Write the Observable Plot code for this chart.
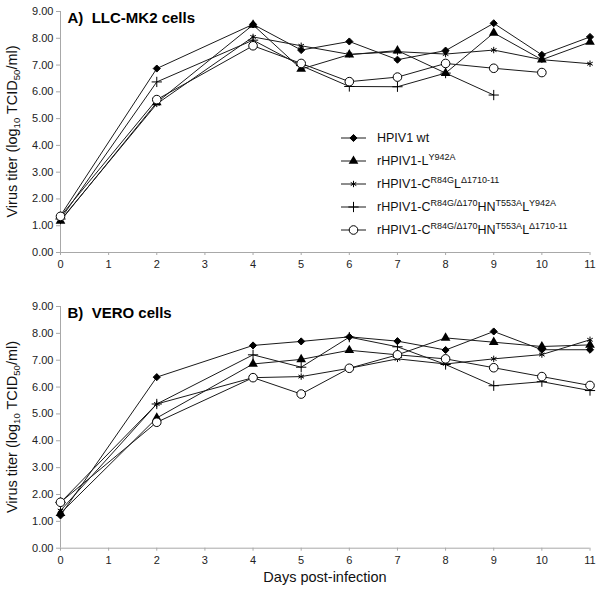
<!DOCTYPE html>
<html><head><meta charset="utf-8">
<script src="https://cdn.jsdelivr.net/npm/d3@7"></script>
<script src="https://cdn.jsdelivr.net/npm/@observablehq/plot@0.6"></script>
<style>
body{margin:0;background:#fff;font-family:"Liberation Sans",Arial,sans-serif;}
#wrap{position:relative;width:600px;height:592px;overflow:hidden;}
#wrap svg{display:block;}
#legend{position:absolute;left:340px;top:126px;font-size:12.5px;color:#111;}
#legend .row{display:flex;align-items:center;height:23.1px;white-space:nowrap;}
#legend .row svg{margin-right:10px;}
#legend sup{font-size:9px;vertical-align:5px;line-height:0;}
</style></head><body><div id="wrap"></div>
<script>
// ---- data ----
const days = [0, 2, 4, 5, 6, 7, 8, 9, 10, 11];
const seriesKeys = ["wt", "L", "CL", "CHNL_Y", "CHNL_D"];
const seriesSymbols = ["diamond2", "triangle", "asterisk", "plus", "circle"];
const legendLabels = [
  "HPIV1 wt",
  "rHPIV1-L<sup>Y942A</sup>",
  "rHPIV1-C<sup>R84G</sup>L<sup>Δ1710-11</sup>",
  "rHPIV1-C<sup>R84G/Δ170</sup>HN<sup>T553A</sup>L<sup>Y942A</sup>",
  "rHPIV1-C<sup>R84G/Δ170</sup>HN<sup>T553A</sup>L<sup>Δ1710-11</sup>"
];
const xTicks = [0, 1, 2, 3, 4, 5, 6, 7, 8, 9, 10, 11];
const yTicks = [0, 1, 2, 3, 4, 5, 6, 7, 8, 9];

// Panel A: LLC-MK2 cells
const aWt     = [1.38, 6.87, 8.52, 7.56, 7.88, 7.20, 7.54, 8.56, 7.38, 8.05];
const aL      = [1.18, 5.60, 8.50, 6.85, 7.39, 7.54, 6.70, 8.20, 7.20, 7.86];
const aCL     = [1.20, 5.55, 8.05, 7.72, 7.40, 7.50, 7.41, 7.56, 7.20, 7.05];
const aCHNL_Y = [1.25, 6.37, 7.93, 6.98, 6.20, 6.19, 6.70, 5.88, null, null];
const aCHNL_D = [1.35, 5.71, 7.72, 7.06, 6.38, 6.55, 7.06, 6.88, 6.72, null];

// Panel B: VERO cells
const bWt     = [1.22, 6.37, 7.55, 7.70, 7.87, 7.71, 7.38, 8.07, 7.39, 7.39];
const bL      = [1.30, 4.85, 6.86, 7.03, 7.37, 7.20, 7.83, 7.67, 7.51, 7.57];
const bCL     = [1.40, 5.37, 6.35, 6.39, 6.70, 7.05, 6.86, 7.05, 7.21, 7.76];
const bCHNL_Y = [1.70, 5.37, 7.20, 6.74, 7.86, 7.50, 6.84, 6.05, 6.20, 5.87];
const bCHNL_D = [1.71, 4.69, 6.35, 5.74, 6.70, 7.20, 7.05, 6.72, 6.39, 6.06];

// ---- build tables ----
function rowsOf(arrays) {
  const rows = [];
  arrays.forEach((vals, i) => vals.forEach((v, j) => {
    if (v != null) rows.push({series: seriesKeys[i], day: days[j], value: v});
  }));
  return rows;
}
const rowsA = rowsOf([aWt, aL, aCL, aCHNL_Y, aCHNL_D]);
const rowsB = rowsOf([bWt, bL, bCL, bCHNL_Y, bCHNL_D]);

const symStyle = {
  diamond2: {fill: "#000", stroke: "#000", r: 3.2},
  triangle: {fill: "#000", stroke: "none", r: 3.6},
  asterisk: {fill: "none", stroke: "#000", r: 3.0},
  plus:     {fill: "none", stroke: "#000", r: 3.4},
  circle:   {fill: "#fff", stroke: "#000", r: 4.3}
};
const d3Sym = {diamond2: d3.symbolDiamond2, triangle: d3.symbolTriangle, asterisk: d3.symbolAsterisk, plus: d3.symbolPlus, circle: d3.symbolCircle};

const FONT = "'Liberation Sans', Arial, sans-serif";
const AXIS = "#a8a8a8";

function panel(rows, title, height, marginTop, marginBottom) {
  const dotMarks = seriesKeys.map((k, i) => {
    const s = seriesSymbols[i], st = symStyle[s];
    return Plot.dot(rows.filter(d => d.series === k), {
      x: "day", y: "value", symbol: () => s, r: st.r,
      fill: st.fill, stroke: st.stroke, strokeWidth: 1
    });
  });
  return Plot.plot({
    width: 600, height, marginLeft: 60, marginRight: 10.5, marginTop, marginBottom,
    style: {fontFamily: FONT, fontSize: "11px", background: "white", color: "#222"},
    x: {domain: [0, 11], label: null},
    y: {domain: [0, 9], label: null},
    symbol: {type: "identity"},
    marks: [
      Plot.axisY({ticks: yTicks, tickFormat: d => d.toFixed(2), tickSize: 4, tickPadding: 3, stroke: AXIS, fill: "#222", label: null}),
      Plot.axisX({ticks: xTicks, tickSize: 3, tickPadding: 5, stroke: AXIS, fill: "#222", label: null}),
      Plot.ruleX([0], {stroke: AXIS}),
      Plot.ruleY([0], {stroke: AXIS}),
      Plot.line(rows, {x: "day", y: "value", z: "series", stroke: "#1a1a1a", strokeWidth: 1}),
      ...dotMarks,
      Plot.text([title], {frameAnchor: "top-left", dx: 7, dy: 1, fontSize: 15, fontWeight: "bold", fill: "#000", lineAnchor: "top", textAnchor: "start"})
    ]
  });
}

function addYLabel(svg, cy) {
  const t = d3.select(svg).append("text")
    .attr("transform", `translate(17,${cy}) rotate(-90)`)
    .attr("text-anchor", "middle")
    .attr("font-family", FONT).attr("font-size", 14.5).attr("fill", "#111");
  t.append("tspan").text("Virus titer (log");
  t.append("tspan").attr("font-size", 9.5).attr("dy", 3).text("10");
  t.append("tspan").attr("dy", -3).text(" TCID");
  t.append("tspan").attr("font-size", 9.5).attr("dy", 3).text("50");
  t.append("tspan").attr("dy", -3).text("/ml)");
}

const wrap = document.getElementById("wrap");
const svgA = panel(rowsA, "A)  LLC-MK2 cells", 290, 11, 38);
const svgB = panel(rowsB, "B)  VERO cells", 302, 16, 44.3);
wrap.appendChild(svgA);
wrap.appendChild(svgB);
addYLabel(svgA, 131.5);
addYLabel(svgB, 137);
d3.select(svgB).append("text")
  .attr("x", 325).attr("y", 292).attr("text-anchor", "middle")
  .attr("font-family", FONT).attr("font-size", 14.5).attr("fill", "#111")
  .text("Days post-infection");

// ---- legend (inside panel A) ----
const legend = d3.select(wrap).append("div").attr("id", "legend");
seriesKeys.forEach((k, i) => {
  const s = seriesSymbols[i], st = symStyle[s];
  const row = legend.append("div").attr("class", "row");
  const sv = row.append("svg").attr("width", 27).attr("height", 14);
  sv.append("line").attr("x1", 1).attr("x2", 26).attr("y1", 7).attr("y2", 7).attr("stroke", "#1a1a1a");
  sv.append("path").attr("transform", "translate(13.5,7)")
    .attr("d", d3.symbol(d3Sym[s], Math.PI * st.r * st.r)())
    .attr("fill", st.fill).attr("stroke", st.stroke);
  row.append("span").html(legendLabels[i]);
});
</script>
</body></html>
